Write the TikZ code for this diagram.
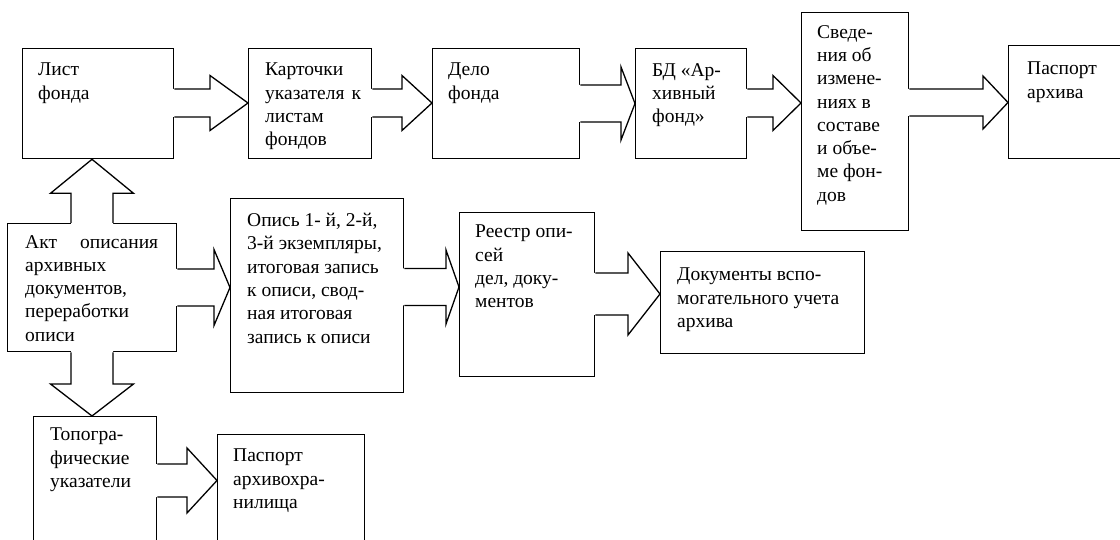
\documentclass[tikz,border=0pt]{standalone}
\usepackage{fontspec}
\setmainfont{Liberation Serif}
\usetikzlibrary{calc}
\newcommand\boxfont{\fontsize{19.5}{23.3}\selectfont}
\tikzset{
  box/.style={draw, line width=1.3pt, fill=white, inner sep=0pt, anchor=north west},
  boxtext/.style={anchor=north west, inner sep=0pt, align=left, font=\boxfont},
  blk/.style={draw, line width=1.3pt, line join=miter, miter limit=10},
}
% block arrow: tail point, tip point, half shaft, half head, head length
\newcommand\blockarrow[5]{%
  \path ($(#2)!#5pt!(#1)$) coordinate (bhb) ($(#1)!-2pt!(#2)$) coordinate (btl);
  \fill[white] ($(btl)!#3pt!90:(#2)$) -- ($(bhb)!#3pt!90:(#2)$) -- ($(bhb)!#4pt!90:(#2)$)
    -- (#2) -- ($(bhb)!#4pt!-90:(#2)$) -- ($(bhb)!#3pt!-90:(#2)$) -- ($(btl)!#3pt!-90:(#2)$) -- cycle;
  \draw[blk] ($(#1)!#3pt!90:(#2)$) -- ($(bhb)!#3pt!90:(#2)$) -- ($(bhb)!#4pt!90:(#2)$)
    -- (#2) -- ($(bhb)!#4pt!-90:(#2)$) -- ($(bhb)!#3pt!-90:(#2)$) -- ($(#1)!#3pt!-90:(#2)$);
}
\newcommand\harrow[6]{%
  \coordinate (by) at (0,#3);
  \path (#1 |- by) coordinate (bt) (#2 |- by) coordinate (bh);
  \blockarrow{bt}{bh}{#4}{#5}{#6}
}
\newcommand\varrow[6]{%
  \coordinate (bx) at (#3,0);
  \path (#1 -| bx) coordinate (bt) (#2 -| bx) coordinate (bh);
  \blockarrow{bt}{bh}{#4}{#5}{#6}
}
\begin{document}
\begin{tikzpicture}[x=1pt,y=-1pt]
  \useasboundingbox (0,0) rectangle (1120,540);
  \clip (0,0) rectangle (1120,540);

  \node[box, minimum width=151pt, minimum height=110pt] (list) at (22,48) {};
  \node[box, minimum width=123pt, minimum height=110pt] (kart) at (248,48) {};
  \node[box, minimum width=147pt, minimum height=110pt] (delo) at (432,48) {};
  \node[box, minimum width=111pt, minimum height=110pt] (bd) at (635,48) {};
  \node[box, minimum width=107pt, minimum height=218pt] (sved) at (801,12) {};
  \node[box, minimum width=130pt, minimum height=113pt] (pasp) at (1008,45) {};
  \node[box, minimum width=169pt, minimum height=128pt] (akt) at (7,223) {};
  \node[box, minimum width=173pt, minimum height=194pt] (opis) at (230,198) {};
  \node[box, minimum width=135pt, minimum height=164pt] (reestr) at (459,212) {};
  \node[box, minimum width=204pt, minimum height=102pt] (docs) at (660,251) {};
  \node[box, minimum width=123pt, minimum height=150pt] (topo) at (33,416) {};
  \node[box, minimum width=147pt, minimum height=130pt] (phran) at (217,434) {};

  \node[boxtext] (list-t) at ($(list.north west)+(16,15)$) {Лист\\фонда};
  \node[boxtext] (kart-t) at ($(kart.north west)+(17,15)$) {Карточки\\\hbox to 96pt{указателя\hfill к}\\листам\\фондов};
  \node[boxtext] (delo-t) at ($(delo.north west)+(16,15)$) {Дело\\фонда};
  \node[boxtext] (bd-t) at ($(bd.north west)+(17,15)$) {БД «Ар-\\хивный\\фонд»};
  \node[boxtext] (sved-t) at ($(sved.north west)+(16,13)$) {Сведе-\\ния об\\измене-\\ниях в\\составе\\и объе-\\ме фон-\\дов};
  \node[boxtext] (pasp-t) at ($(pasp.north west)+(19,17)$) {Паспорт\\архива};
  \node[boxtext] (akt-t) at ($(akt.north west)+(18,12)$) {\hbox to 133pt{Акт\hfill описания}\\архивных\\документов,\\переработки\\описи};
  \node[boxtext] (opis-t) at ($(opis.north west)+(17,15)$) {Опись 1- й, 2-й,\\3-й экземпляры,\\итоговая запись\\к описи, свод-\\ная итоговая\\запись к описи};
  \node[boxtext] (reestr-t) at ($(reestr.north west)+(16,13)$) {Реестр опи-\\сей\\дел, доку-\\ментов};
  \node[boxtext] (docs-t) at ($(docs.north west)+(17,17)$) {Документы вспо-\\могательного учета\\архива};
  \node[boxtext] (topo-t) at ($(topo.north west)+(17,12)$) {Топогра-\\фические\\указатели};
  \node[boxtext] (phran-t) at ($(phran.north west)+(16,15)$) {Паспорт\\архивохра-\\нилища};

  \harrow{list.east}{kart.west}{103}{14}{27.5}{38}
  \harrow{kart.east}{delo.west}{103}{14}{27.5}{30}
  \harrow{delo.east}{bd.west}{103.5}{18.5}{36.5}{14}
  \harrow{bd.east}{sved.west}{103}{14}{27.5}{28}
  \harrow{sved.east}{pasp.west}{102.5}{13.5}{26.5}{25}
  \harrow{akt.east}{opis.west}{287.5}{18.5}{38}{16}
  \harrow{opis.east}{reestr.west}{287}{18.5}{37}{13}
  \harrow{reestr.east}{docs.west}{294}{21}{41}{32}
  \harrow{topo.east}{phran.west}{480.5}{16.5}{32.5}{30}
  \varrow{akt.north}{list.south}{92}{21}{41.5}{34}
  \varrow{akt.south}{topo.north}{92}{21}{41.5}{32}
\end{tikzpicture}
\end{document}
